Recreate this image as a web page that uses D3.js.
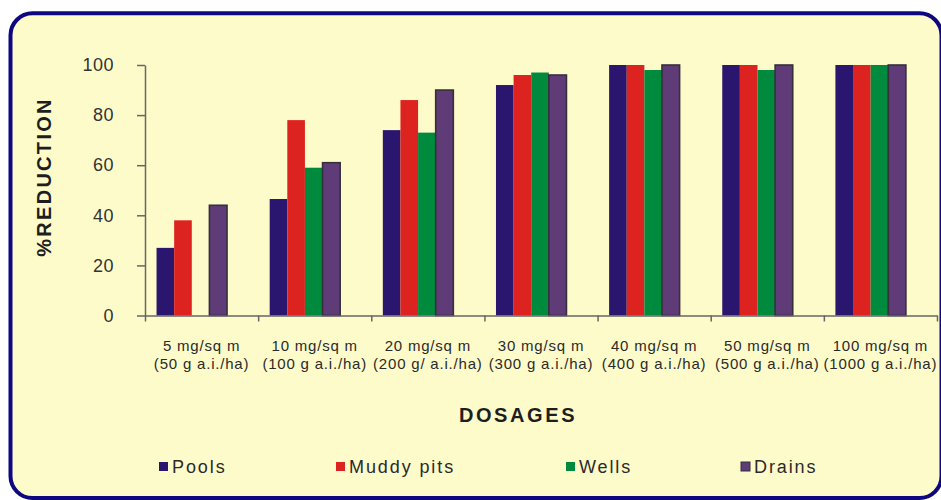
<!DOCTYPE html>
<html>
<head>
<meta charset="utf-8">
<script src="https://cdn.jsdelivr.net/npm/d3@7"></script>
<style>
  html, body { margin: 0; padding: 0; background: #ffffff; }
  svg { display: block; }
  text { font-family: "Liberation Sans", Arial, sans-serif; }
</style>
</head>
<body>
<svg id="chart" width="941" height="500"></svg>
<script>
// Dosage categories (two-line labels)
const doseLine1 = ["5 mg/sq m", "10 mg/sq m", "20 mg/sq m", "30 mg/sq m", "40 mg/sq m", "50 mg/sq m", "100 mg/sq m"];
const doseLine2 = ["(50 g a.i./ha)", "(100 g a.i./ha)", "(200 g/ a.i./ha)", "(300 g a.i./ha)", "(400 g a.i./ha)", "(500 g a.i./ha)", "(1000 g a.i./ha)"];

// % reduction per habitat type
const seriesNames = ["Pools", "Muddy pits", "Wells", "Drains"];
const pools     = [27, 46.5, 74, 92, 100, 100, 100];
const muddyPits = [38, 78, 86, 96, 100, 100, 100];
const wells     = [null, 59, 73, 97, 98, 98, 100];
const drains    = [44, 61, 90, 96, 100, 100, 100];
const seriesColors = ["#2a166e", "#dd2320", "#008a3e", "#5f3b78"];

const yTicks = [0, 20, 40, 60, 80, 100];

const seriesValues = [pools, muddyPits, wells, drains];
const svg = d3.select("#chart");

// Panel with rounded navy frame
svg.append("rect")
  .attr("x", 10.5).attr("y", 13.3)
  .attr("width", 931).attr("height", 484.7)
  .attr("rx", 22).attr("ry", 22)
  .attr("fill", "#fefbca")
  .attr("stroke", "#0d0880")
  .attr("stroke-width", 4);

// Scales
const x0 = d3.scaleBand().domain(d3.range(doseLine1.length)).range([145, 937]).padding(0);
const bw = x0.bandwidth();
const x1 = d3.scaleBand().domain(seriesNames).range([bw * 0.102, bw * 0.725]).padding(0);
const y = d3.scaleLinear().domain([0, 100]).range([315.5, 65]);
const xEdges = d3.scaleLinear().domain([0, doseLine1.length]).range([145, 937]);

// Bars
const groups = svg.append("g").selectAll("g")
  .data(d3.range(doseLine1.length))
  .join("g")
  .attr("transform", i => `translate(${x0(i)},0)`);

groups.selectAll("rect")
  .data(i => seriesNames.map((name, s) => ({ name, s, v: seriesValues[s][i] })).filter(d => d.v != null))
  .join("rect")
  .attr("x", d => x1(d.name))
  .attr("width", x1.bandwidth())
  .attr("y", d => y(d.v))
  .attr("height", d => y(0) - y(d.v))
  .attr("fill", d => seriesColors[d.s])
  .attr("stroke", d => d.name === "Drains" ? "#35303a" : "none")
  .attr("stroke-width", d => d.name === "Drains" ? 1.6 : 0);

// Y axis
const yAxis = svg.append("g")
  .attr("transform", "translate(145,0)")
  .call(d3.axisLeft(y).tickValues(yTicks).tickSize(8).tickSizeOuter(0).tickPadding(23));
yAxis.select(".domain").attr("stroke", "#666").attr("stroke-width", 1.5);
yAxis.selectAll(".tick line").attr("stroke", "#666").attr("stroke-width", 1.5);
yAxis.selectAll(".tick text")
  .attr("font-family", "'Liberation Sans', Arial, sans-serif")
  .attr("font-size", 18)
  .attr("letter-spacing", 0.5)
  .attr("fill", "#333");

// X axis with ticks at category boundaries
const xAxis = svg.append("g")
  .attr("transform", `translate(0,${y(0)})`)
  .call(d3.axisBottom(xEdges).ticks(doseLine1.length).tickSize(6).tickSizeOuter(0).tickFormat(""));
xAxis.select(".domain").attr("stroke", "#666").attr("stroke-width", 1.5);
xAxis.selectAll(".tick line").attr("stroke", "#666").attr("stroke-width", 1.5);

// Category labels
const catLabels = svg.append("g").selectAll("text")
  .data(d3.range(doseLine1.length))
  .join("text")
  .attr("x", i => x0(i) + bw / 2)
  .attr("text-anchor", "middle")
  .attr("font-size", 15)
  .attr("letter-spacing", 0.8)
  .attr("fill", "#2a2a2a");
catLabels.append("tspan").attr("x", i => x0(i) + bw / 2).attr("y", 351).text(i => doseLine1[i]);
catLabels.append("tspan").attr("x", i => x0(i) + bw / 2).attr("y", 369).text(i => doseLine2[i]);

// Axis titles
svg.append("text")
  .attr("transform", "translate(51,177) rotate(-90)")
  .attr("text-anchor", "middle")
  .attr("font-size", 20)
  .attr("font-weight", "bold")
  .attr("letter-spacing", 2.3)
  .attr("fill", "#1e1e1e")
  .text("%REDUCTION");

svg.append("text")
  .attr("x", 518).attr("y", 422)
  .attr("text-anchor", "middle")
  .attr("font-size", 20)
  .attr("font-weight", "bold")
  .attr("letter-spacing", 2.6)
  .attr("fill", "#1e1e1e")
  .text("DOSAGES");

// Legend
const legendX = [159, 336, 566, 741];
const legend = svg.append("g").selectAll("g")
  .data(seriesNames)
  .join("g")
  .attr("transform", (d, i) => `translate(${legendX[i]},462)`);
legend.append("rect")
  .attr("width", 9).attr("height", 9)
  .attr("fill", (d, i) => seriesColors[i])
  .attr("stroke", d => d === "Drains" ? "#35303a" : "none")
  .attr("stroke-width", 1);
legend.append("text")
  .attr("x", 13).attr("y", 11)
  .attr("font-size", 18)
  .attr("letter-spacing", 1.9)
  .attr("fill", "#2a2a2a")
  .text(d => d);
</script>
</body>
</html>
